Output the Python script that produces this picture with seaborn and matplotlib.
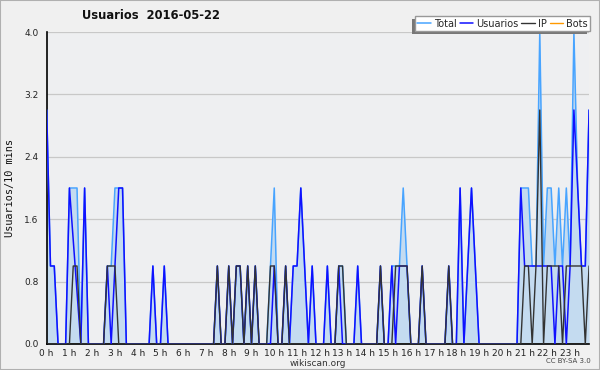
import matplotlib
matplotlib.use("Agg")
import matplotlib.pyplot as plt
import seaborn as sns
import numpy as np
import pandas as pd
from matplotlib.ticker import MultipleLocator, FixedLocator
from matplotlib.patches import Rectangle

# ---- data (10-minute slots, 144 per day) ----
total = [3, 1, 1, 0, 0, 0, 2, 2, 2, 0, 2, 0, 0, 0, 0, 0, 1, 1, 2, 2,
         2, 0, 0, 0, 0, 0, 0, 0, 1, 0, 0, 1, 0, 0, 0, 0, 0, 0, 0, 0,
         0, 0, 0, 0, 0, 1, 0, 0, 1, 0, 1, 1, 0, 1, 0, 1, 0, 0, 0, 1,
         2, 0, 0, 1, 0, 1, 1, 2, 1, 0, 1, 0, 0, 0, 1, 0, 0, 1, 1, 0,
         0, 0, 1, 0, 0, 0, 0, 0, 1, 0, 0, 1, 1, 1, 2, 1, 0, 0, 0, 1,
         0, 0, 0, 0, 0, 0, 1, 0, 0, 2, 0, 1, 2, 1, 0, 0, 0, 0, 0, 0,
         0, 0, 0, 0, 0, 2, 2, 2, 1, 1, 4, 1, 2, 2, 1, 2, 1, 2, 1, 4,
         2, 1, 1, 3]
usuarios = [3, 1, 1, 0, 0, 0, 2, 1.33, 0.67, 0, 2, 0, 0, 0, 0, 0, 1, 0, 1, 2,
            2, 0, 0, 0, 0, 0, 0, 0, 1, 0, 0, 1, 0, 0, 0, 0, 0, 0, 0, 0,
            0, 0, 0, 0, 0, 1, 0, 0, 1, 0, 1, 1, 0, 1, 0, 1, 0, 0, 0, 0,
            1, 0, 0, 1, 0, 1, 1, 2, 1, 0, 1, 0, 0, 0, 1, 0, 0, 1, 0, 0,
            0, 0, 1, 0, 0, 0, 0, 0, 1, 0, 0, 1, 0, 1, 1, 1, 0, 0, 0, 1,
            0, 0, 0, 0, 0, 0, 1, 0, 0, 2, 0, 1, 2, 1, 0, 0, 0, 0, 0, 0,
            0, 0, 0, 0, 0, 2, 1, 1, 1, 1, 1, 1, 1, 1, 0, 1, 1, 0, 1, 3,
            2, 1, 1, 3]
ip = [0, 0, 0, 0, 0, 0, 0, 1, 1, 0, 0, 0, 0, 0, 0, 0, 1, 1, 1, 0,
      0, 0, 0, 0, 0, 0, 0, 0, 0, 0, 0, 0, 0, 0, 0, 0, 0, 0, 0, 0,
      0, 0, 0, 0, 0, 1, 0, 0, 1, 0, 1, 1, 0, 1, 0, 1, 0, 0, 0, 1,
      1, 0, 0, 1, 0, 0, 0, 0, 0, 0, 0, 0, 0, 0, 0, 0, 0, 1, 1, 0,
      0, 0, 0, 0, 0, 0, 0, 0, 1, 0, 0, 0, 1, 1, 1, 1, 0, 0, 0, 1,
      0, 0, 0, 0, 0, 0, 1, 0, 0, 0, 0, 0, 0, 0, 0, 0, 0, 0, 0, 0,
      0, 0, 0, 0, 0, 0, 1, 1, 0, 1, 3, 0, 1, 1, 1, 1, 0, 1, 1, 1,
      1, 1, 0, 1]
bots = [0] * 144
hour_labels = [f"{h} h" for h in range(24)]
y_ticks = [0.0, 0.8, 1.6, 2.4, 3.2, 4.0]
title = "Usuarios  2016-05-22"

n = len(total)
df = pd.DataFrame({
    "t": np.arange(n) / 6.0,
    "Total": total, "Usuarios": usuarios, "IP": ip, "Bots": bots,
})

sns.set_theme(style="white")
plt.rcParams["font.family"] = ["DejaVu Sans"]

fig = plt.figure(figsize=(6.0, 3.7), dpi=100, facecolor="#f0f0f0")
ax = fig.add_axes([0.0778, 0.0703, 0.904, 0.8432])
ax.set_facecolor("#eeeff1")

ax.fill_between(df["t"], df["Total"], 0, color="#c4dbf0", lw=0, zorder=1)
sns.lineplot(data=df, x="t", y="Total", ax=ax, color="#48a4ff", lw=1.1, label="Total", zorder=3)
sns.lineplot(data=df, x="t", y="Usuarios", ax=ax, color="#1010ff", lw=1.1, label="Usuarios", zorder=4)
sns.lineplot(data=df, x="t", y="IP", ax=ax, color="#333333", lw=1.0, label="IP", zorder=5)
sns.lineplot(data=df, x="t", y="Bots", ax=ax, color="#ff9900", lw=1.0, label="Bots", zorder=2)

ax.set_xlim(0, (n - 1) / 6.0)
ax.set_ylim(0, 4.0)
ax.yaxis.set_major_locator(FixedLocator(y_ticks))
ax.yaxis.set_minor_locator(MultipleLocator(0.4))
ax.set_yticklabels([f"{v:.1f}" for v in y_ticks])
ax.xaxis.set_major_locator(FixedLocator(list(range(24))))
ax.xaxis.set_minor_locator(MultipleLocator(1 / 6.0))
ax.set_xticklabels(hour_labels)
ax.grid(axis="y", which="major", color="#c8c8c8", lw=0.9)
ax.set_axisbelow(True)

for s in ["top", "right"]:
    ax.spines[s].set_visible(False)
for s in ["left", "bottom"]:
    ax.spines[s].set_color("#000000")
    ax.spines[s].set_linewidth(1.2)

ax.tick_params(axis="x", which="both", direction="out", length=3, width=1,
               color="#000000", labelsize=6.5, pad=0.5, labelcolor="#222222")
ax.tick_params(axis="y", which="major", direction="out", length=5, width=1,
               color="#000000", labelsize=6.5, pad=1, labelcolor="#222222")
ax.tick_params(axis="y", which="minor", direction="out", length=3, width=1, color="#000000")

ax.set_xlabel("wikiscan.org", fontsize=6.5, color="#333333", labelpad=0.5)
ax.set_ylabel("Usuarios/10 mins", fontsize=7.4, family="DejaVu Sans Mono", color="#111111", labelpad=6.5)

fig.text(0.252, 0.957, title, ha="center", va="center", fontsize=8.3, fontweight="bold", color="#111111")
fig.text(0.984, 0.015, "CC BY-SA 3.0", ha="right", va="bottom", fontsize=5, color="#444444")

leg = ax.legend(loc="upper right", bbox_to_anchor=(1.002, 1.05), ncol=4, fontsize=7,
                frameon=True, fancybox=False, shadow=False, edgecolor="#999999",
                handlelength=1.4, handletextpad=0.3, columnspacing=0.3,
                borderpad=0.25, borderaxespad=0)
leg.get_frame().set_linewidth(1.0)
leg.get_frame().set_facecolor("white")
leg.get_frame().set_alpha(1)
leg.set_zorder(10)

# manual shadow (offset down-left), drawn just below the legend
fig.canvas.draw()
bb = leg.get_window_extent().transformed(fig.transFigure.inverted())
dx, dy = 3 / 600, 3 / 370
shadow = Rectangle((bb.x0 - dx, bb.y0 - dy), bb.width, bb.height,
                   transform=fig.transFigure, facecolor="#777777",
                   edgecolor="none", zorder=9, clip_on=False)
ax.add_artist(shadow)

# border of whole image
fig.patches.append(Rectangle((0, 0), 1, 1, transform=fig.transFigure, fill=False,
                             edgecolor="#b0b0b0", lw=1.5))

fig.savefig("out.png", dpi=100, facecolor=fig.get_facecolor())
